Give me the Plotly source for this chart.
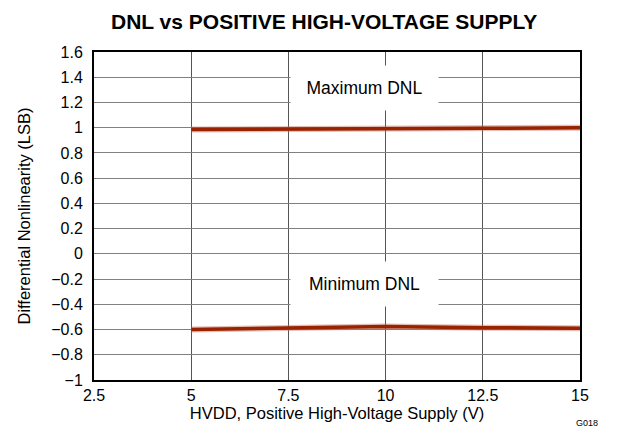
import plotly.graph_objects as go

hvdd = [5, 7.5, 10, 12.5, 15]
max_dnl = [0.985, 0.987, 0.99, 0.995, 1.0]
min_dnl = [-0.60, -0.59, -0.575, -0.585, -0.59]

x_ticks = [2.5, 5, 7.5, 10, 12.5, 15]
y_ticks = [-1, -0.8, -0.6, -0.4, -0.2, 0, 0.2, 0.4, 0.6, 0.8, 1, 1.2, 1.4, 1.6]

FONT = "Liberation Sans, Arial, sans-serif"

fig = go.Figure()
for ys in (max_dnl, min_dnl):
    fig.add_trace(go.Scatter(x=hvdd, y=ys, mode="lines",
                             line=dict(color="rgba(190,110,90,0.45)", width=6),
                             hoverinfo="skip", showlegend=False))
    fig.add_trace(go.Scatter(x=hvdd, y=ys, mode="lines",
                             line=dict(color="#992200", width=3.5),
                             showlegend=False))

axis_common = dict(showgrid=True, gridwidth=1,
                   showline=True, linecolor="black", linewidth=2, mirror=True,
                   zeroline=False, ticks="", tickfont=dict(size=16, color="black", family=FONT))

fig.update_xaxes(range=[2.5, 15], tickvals=x_ticks, gridcolor="#555555",
                 ticktext=[f"{v:g}" for v in x_ticks],
                 title=dict(text="HVDD, Positive High-Voltage Supply (V)",
                            font=dict(size=16.5, color="black", family=FONT), standoff=2),
                 **axis_common)
fig.update_yaxes(range=[-1, 1.6], tickvals=y_ticks, gridcolor="#808080",
                 ticktext=[(f"{v:g}".replace("-", "\u2212")) for v in y_ticks],
                 ticklabelstandoff=6,
                 title=dict(text="Differential Nonlinearity (LSB)",
                            font=dict(size=16.5, color="black", family=FONT), standoff=16),
                 **axis_common)

fig.add_annotation(x=9.46, y=1.315, text="Maximum DNL", showarrow=False,
                   bgcolor="white", width=145, height=42,
                   font=dict(size=17.5, color="black", family=FONT))
fig.add_annotation(x=9.46, y=-0.24, text="Minimum DNL", showarrow=False,
                   bgcolor="white", width=145, height=42,
                   font=dict(size=17.5, color="black", family=FONT))
fig.add_annotation(xref="paper", yref="paper", x=1.041, y=0, yshift=-43, xanchor="right",
                   yanchor="middle", text="G018", showarrow=False,
                   font=dict(size=9, color="black", family=FONT))
fig.add_annotation(xref="paper", yref="paper", x=0.473, y=1.0, yshift=31,
                   xanchor="center", yanchor="middle",
                   text="<b>DNL vs POSITIVE HIGH-VOLTAGE SUPPLY</b>", showarrow=False,
                   font=dict(size=21, color="black", family=FONT))

fig.update_layout(width=610, height=425, margin=dict(l=86, r=38, t=44, b=53),
                  paper_bgcolor="white", plot_bgcolor="white",
                  font=dict(family=FONT, color="black"))

fig.write_html("out.html")
